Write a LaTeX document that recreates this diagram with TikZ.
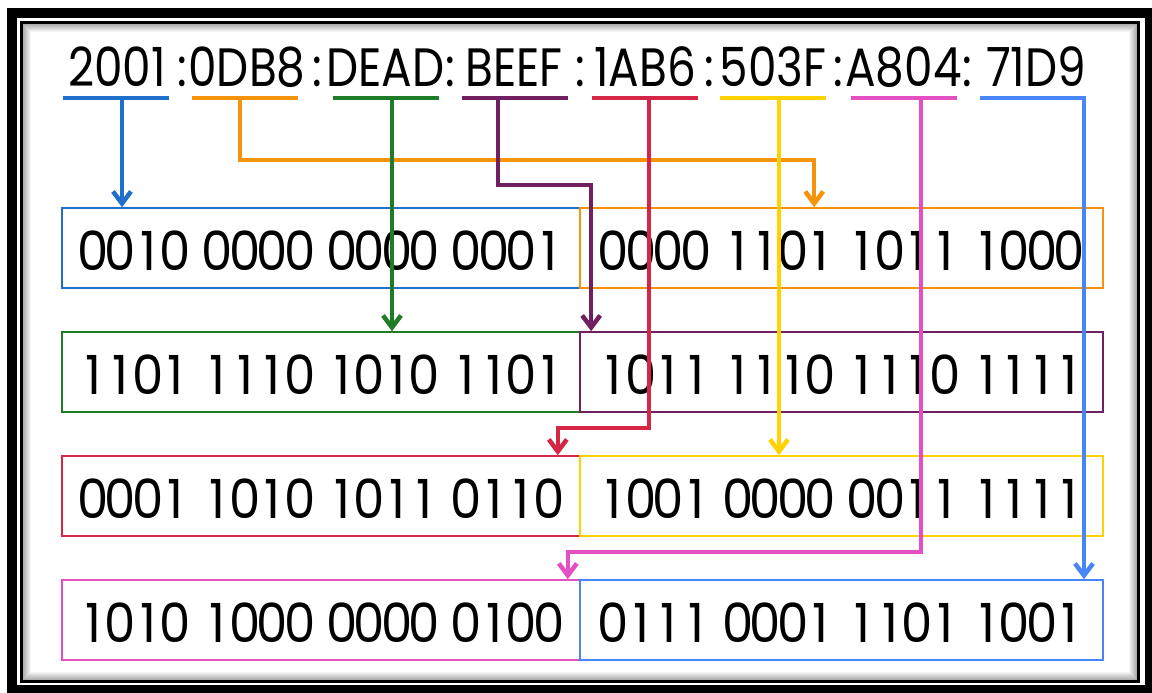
\documentclass[tikz,border=0pt]{standalone}
\usepackage{fontspec}
\usepackage{tikz}
\usetikzlibrary{arrows.meta}
\newfontfamily\hexfont[FakeStretch=0.92]{Poppins}
\newfontfamily\addrfont[FakeStretch=0.84]{Poppins}

% every digit in a cell of its own, so all digits take the same room
\makeatletter
\newcommand\hexcells[2]{\@tfor\hx@c:=#2\do{\makebox[#1][c]{\hx@c}}}
\makeatother
\newcommand\bitrow[4]{\raisebox{-3pt}[\height][\depth]{\hexcells{27.5pt}{#1}\hspace{14.5pt}\hexcells{27.5pt}{#2}\hspace{14.5pt}\hexcells{27.5pt}{#3}\hspace{14.5pt}\hexcells{27.5pt}{#4}}}

\definecolor{cA}{RGB}{30,112,204}
\definecolor{cB}{RGB}{245,147,10}
\definecolor{cC}{RGB}{30,124,38}
\definecolor{cD}{RGB}{112,32,96}
\definecolor{cE}{RGB}{214,38,72}
\definecolor{cF}{RGB}{255,210,0}
\definecolor{cG}{RGB}{228,80,196}
\definecolor{cH}{RGB}{72,134,248}

\begin{document}
\begin{tikzpicture}[x=1pt,y=-1pt,
	grp/.style={font=\addrfont\fontsize{54}{60}\selectfont, inner sep=0pt, anchor=base},
	word/.style={draw, line width=1.6pt, minimum height=80pt, inner sep=0pt, font=\hexfont\fontsize{54}{60}\selectfont},
	uline/.style={line width=4pt},
	link/.style={line width=4.5pt, -{Straight Barb[length=12pt,width=18pt]}}]
	\useasboundingbox (0,0) rectangle (1152,693);
	% double frame with a soft inner shadow
	\draw[line width=10pt] (12,13) rectangle (1150,690);
	\draw[line width=3pt] (21.5,23) rectangle (1138.5,681.5);
	\foreach \i [evaluate=\i as \o using 0.36-0.04*\i] in {1,...,8}
		\draw[black, opacity=\o, line width=1pt] (22.5+\i,24+\i) rectangle (1137.5-\i,680.5-\i);

	% the address, group by group
	\node[grp] (g1) at (117,86) {2001};
	\node[grp] (g2) at (247,86) {0DB8};
	\node[grp] (g3) at (385.5,86) {DEAD};
	\node[grp] (g4) at (514,86) {BEEF};
	\node[grp] (g5) at (645,86) {1AB6};
	\node[grp] (g6) at (773,86) {503F};
	\node[grp] (g7) at (903.5,86) {A804};
	\node[grp] (g8) at (1036,86) {71D9};
	\foreach \x in {182,317,450,580,709.5,838,967.5}
		\node[grp] at (\x,86) {:};
	\foreach \g/\c/\x in {g1/cA/115.5,g2/cB/245,g3/cC/385.5,g4/cD/515,g5/cE/645,g6/cF/773,g7/cG/903.5,g8/cH/1033}
		\draw[uline,\c] (\x-53,98) -- (\x+53,98);

	% the bits, two groups per row
	\node[word, cA, minimum width=518pt] (w1) at (321,248) {\color{black}\bitrow{0010}{0000}{0000}{0001}};
	\node[word, cB, minimum width=523pt] (w2) at (841.5,248) {\color{black}\bitrow{0000}{1101}{1011}{1000}};
	\node[word, cC, minimum width=518pt] (w3) at (321,372) {\color{black}\bitrow{1101}{1110}{1010}{1101}};
	\node[word, cD, minimum width=523pt] (w4) at (841.5,372) {\color{black}\bitrow{1011}{1110}{1110}{1111}};
	\node[word, cE, minimum width=518pt] (w5) at (321,496) {\color{black}\bitrow{0001}{1010}{1011}{0110}};
	\node[word, cF, minimum width=523pt] (w6) at (841.5,496) {\color{black}\bitrow{1001}{0000}{0011}{1111}};
	\node[word, cG, minimum width=518pt] (w7) at (321,620) {\color{black}\bitrow{1010}{1000}{0000}{0100}};
	\node[word, cH, minimum width=523pt] (w8) at (841.5,620) {\color{black}\bitrow{0111}{0001}{1101}{1001}};

	% where each group goes
	\coordinate (s1) at (122,96);
	\coordinate (s2) at (240,96);
	\coordinate (s3) at (392,96);
	\coordinate (s4) at (498,96);
	\coordinate (s5) at (649,96);
	\coordinate (s6) at (779,96);
	\coordinate (s7) at (921,96);
	\coordinate (s8) at (1084,96);
	\coordinate (t2) at ([xshift=235pt]w2.north west);
	\coordinate (t4) at ([xshift=12pt]w4.north west);
	\coordinate (t5) at ([xshift=-23pt]w5.north east);
	\coordinate (t7) at ([xshift=-13pt]w7.north east);
	\draw[link,cA] (s1) -- (s1 |- w1.north);
	\draw[link,cB] (s2) -- ++(0,64) -| (t2);
	\draw[link,cC] (s3) -- (s3 |- w3.north);
	\draw[link,cD] (s4) -- ++(0,89) -| (t4);
	\draw[link,cE] (s5) -- ++(0,332) -| (t5);
	\draw[link,cF] (s6) -- (s6 |- w6.north);
	\draw[link,cG] (s7) -- ++(0,456) -| (t7);
	\draw[link,cH] (s8) -- (s8 |- w8.north);
\end{tikzpicture}
\end{document}
